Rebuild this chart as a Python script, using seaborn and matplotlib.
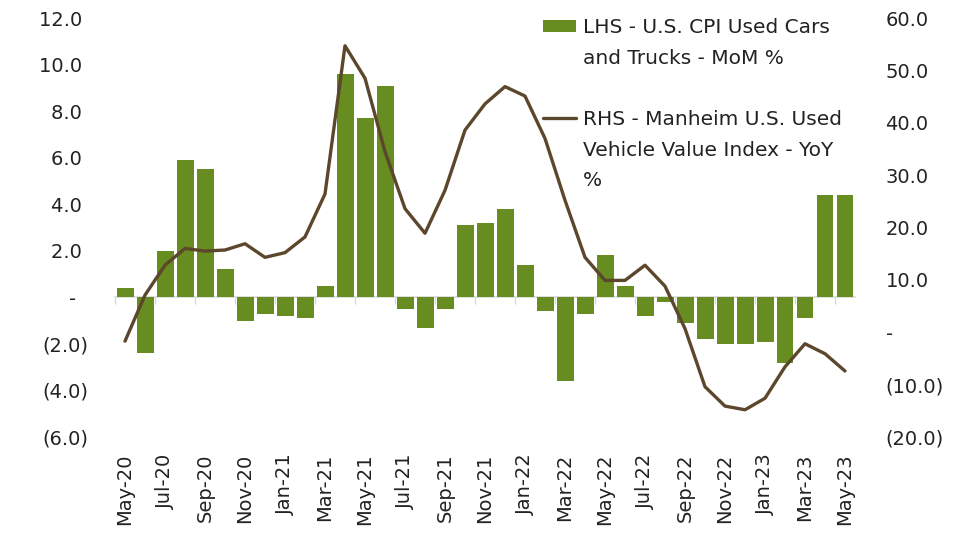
import numpy as np
import pandas as pd
import matplotlib
matplotlib.use("Agg")
import matplotlib.pyplot as plt
import seaborn as sns
from matplotlib.patches import Patch
from matplotlib.lines import Line2D
from matplotlib.ticker import FuncFormatter

# --- data ---
months = [
    "May-20", "Jun-20", "Jul-20", "Aug-20", "Sep-20", "Oct-20", "Nov-20", "Dec-20",
    "Jan-21", "Feb-21", "Mar-21", "Apr-21", "May-21", "Jun-21", "Jul-21", "Aug-21",
    "Sep-21", "Oct-21", "Nov-21", "Dec-21", "Jan-22", "Feb-22", "Mar-22", "Apr-22",
    "May-22", "Jun-22", "Jul-22", "Aug-22", "Sep-22", "Oct-22", "Nov-22", "Dec-22",
    "Jan-23", "Feb-23", "Mar-23", "Apr-23", "May-23",
]
cpi_mom = [
    0.4, -2.4, 2.0, 5.9, 5.5, 1.2, -1.0, -0.7,
    -0.8, -0.9, 0.5, 9.6, 7.7, 9.1, -0.5, -1.3,
    -0.5, 3.1, 3.2, 3.8, 1.4, -0.6, -3.6, -0.7,
    1.8, 0.5, -0.8, -0.2, -1.1, -1.8, -2.0, -2.0,
    -1.9, -2.8, -0.9, 4.4, 4.4,
]
manheim_yoy = [
    -1.7, 7.1, 12.8, 16.0, 15.5, 15.7, 16.9, 14.3,
    15.2, 18.2, 26.4, 54.7, 48.5, 34.5, 23.6, 18.9,
    27.1, 38.6, 43.6, 46.9, 45.1, 37.0, 25.2, 14.3,
    9.9, 9.9, 12.8, 8.8, 0.7, -10.4, -14.1, -14.8,
    -12.6, -6.6, -2.2, -4.1, -7.4,
]
lhs_label = ["LHS - U.S. CPI Used Cars", "and Trucks - MoM %"]
rhs_label = ["RHS - Manheim U.S. Used", "Vehicle Value Index - YoY", "%"]

GREEN = "#678C1F"
BROWN = "#5C472D"
TEXT = "#222222"

df = pd.DataFrame({"month": months, "cpi": cpi_mom, "manheim": manheim_yoy})

sns.set_style("white")
plt.rcParams["font.family"] = ["DejaVu Sans"]
plt.rcParams["text.color"] = TEXT
plt.rcParams["xtick.color"] = TEXT
plt.rcParams["ytick.color"] = TEXT

fig = plt.figure(figsize=(9.61, 5.35), dpi=100)
ax = fig.add_axes([115 / 961, 1 - 437 / 535, 740 / 961, 419 / 535])

sns.barplot(data=df, x="month", y="cpi", color=GREEN, saturation=1,
            width=0.85, linewidth=0, ax=ax)

ax2 = ax.twinx()
sns.lineplot(x=np.arange(len(df)), y=df["manheim"], color=BROWN,
             linewidth=2.4, ax=ax2)

ax.set_xlim(-0.5, len(df) - 0.5)
ax.set_ylim(-6, 12)
ax2.set_ylim(-20, 60)
ax.set_yticks(np.arange(-6, 13, 2))
ax2.set_yticks(np.arange(-20, 61, 10))


def lhs_fmt(v, pos):
    if abs(v) < 1e-9:
        return "-  "
    if v < 0:
        return f"({abs(v):.1f})"
    return f"{v:.1f} "


def rhs_fmt(v, pos):
    if abs(v) < 1e-9:
        return "-"
    if v < 0:
        return f"({abs(v):.1f})"
    return f"{v:.1f}"


ax.yaxis.set_major_formatter(FuncFormatter(lhs_fmt))
ax2.yaxis.set_major_formatter(FuncFormatter(rhs_fmt))

ax.set_xticks(range(0, len(df), 2))
ax.set_xticklabels(months[::2], rotation=90)
ax.tick_params(axis="x", length=0, pad=12, labelsize=14)
ax.tick_params(axis="y", length=0, pad=19, labelsize=14)
ax2.tick_params(axis="y", length=0, pad=22, labelsize=14)
for a in (ax, ax2):
    a.set_xlabel("")
    a.set_ylabel("")
    for s in a.spines.values():
        s.set_visible(False)

# zero line with category-boundary tick marks
zero = ax.secondary_xaxis(6 / 18)
zero.set_xticks(np.arange(-0.5, len(df), 2))
zero.tick_params(axis="x", direction="out", length=5, width=1,
                 color="#D9D9D9", labelbottom=False)
zero.spines["bottom"].set_color("#D9D9D9")
zero.spines["bottom"].set_linewidth(1.2)

blank = Patch(facecolor="none", edgecolor="none")
handles = [Patch(facecolor=GREEN, edgecolor="none"), blank, blank,
           Line2D([], [], color=BROWN, linewidth=2.4), blank, blank]
labels = [lhs_label[0], lhs_label[1], " ", rhs_label[0], rhs_label[1], rhs_label[2]]
ax2.legend(handles, labels, loc="upper left",
           bbox_to_anchor=(543 / 961, 1 - 18 / 535), bbox_transform=fig.transFigure,
           frameon=False, fontsize=14.5, handlelength=1.65, handleheight=0.6,
           handletextpad=0.35, labelspacing=0.58, borderpad=0, borderaxespad=0)

fig.savefig("out.png", dpi=100)
